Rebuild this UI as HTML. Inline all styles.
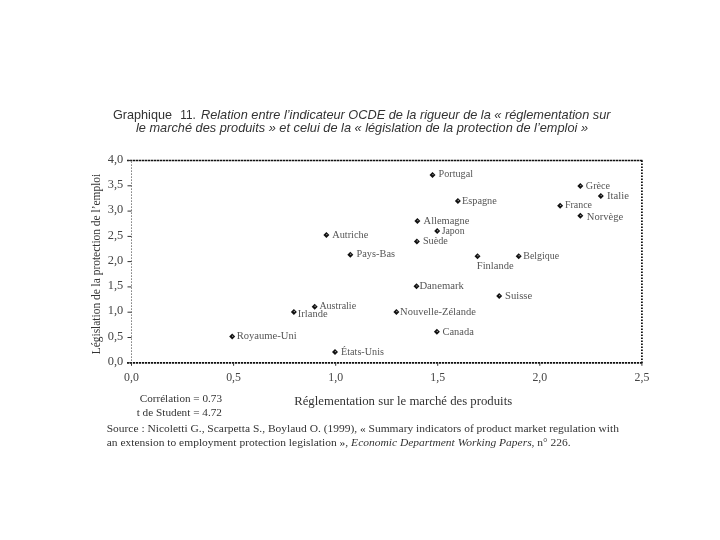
<!DOCTYPE html>
<html lang="fr"><head><meta charset="utf-8"><title>Graphique 11</title>
<style>
html,body{margin:0;padding:0;background:#fff;width:720px;height:540px;overflow:hidden}
svg{display:block}
text{font-family:"Liberation Serif","DejaVu Serif",serif;fill:#333}
.t{font-family:"Liberation Sans","DejaVu Sans",sans-serif;font-size:13px;fill:#333}
.ti{font-style:italic}
.lab{font-size:10.5px;fill:#555}
.tick{font-size:12px;fill:#444}
.ax{font-size:11.5px;fill:#333}
.src{font-size:11px;fill:#333}
</style></head><body>
<svg width="720" height="540" viewBox="0 0 720 540">

<text x="113" y="118.5" class="t" textLength="59" lengthAdjust="spacingAndGlyphs">Graphique</text>
<text x="180.3" y="118.5" class="t" textLength="15.5" lengthAdjust="spacingAndGlyphs">11.</text>
<text x="201" y="118.5" class="t ti" textLength="409.5" lengthAdjust="spacingAndGlyphs">Relation entre l’indicateur OCDE de la rigueur de la « réglementation sur</text>
<text x="136" y="131.9" class="t ti" textLength="452" lengthAdjust="spacingAndGlyphs">le marché des produits » et celui de la « législation de la protection de l’emploi »</text>
<line x1="127" y1="160.5" x2="642.5" y2="160.5" stroke="#111" stroke-width="1.3" stroke-dasharray="2.4 0.6"/>
<line x1="131.5" y1="161.5" x2="131.5" y2="362.8" stroke="#555" stroke-width="1" stroke-dasharray="1.2 1.8"/>
<line x1="641.9" y1="160.5" x2="641.9" y2="363.8" stroke="#111" stroke-width="1.8" stroke-dasharray="1.5 1.5"/>
<line x1="127" y1="362.8" x2="642.5" y2="362.8" stroke="#111" stroke-width="1.8" stroke-dasharray="2.2 0.8"/>
<line x1="127.5" y1="362.8" x2="131.5" y2="362.8" stroke="#333" stroke-width="1"/>
<text x="123.2" y="365.0" class="tick" text-anchor="end" textLength="15.5" lengthAdjust="spacingAndGlyphs">0,0</text>
<line x1="127.5" y1="337.5" x2="131.5" y2="337.5" stroke="#333" stroke-width="1"/>
<text x="123.2" y="339.7" class="tick" text-anchor="end" textLength="15.5" lengthAdjust="spacingAndGlyphs">0,5</text>
<line x1="127.5" y1="312.2" x2="131.5" y2="312.2" stroke="#333" stroke-width="1"/>
<text x="123.2" y="314.4" class="tick" text-anchor="end" textLength="15.5" lengthAdjust="spacingAndGlyphs">1,0</text>
<line x1="127.5" y1="286.9" x2="131.5" y2="286.9" stroke="#333" stroke-width="1"/>
<text x="123.2" y="289.1" class="tick" text-anchor="end" textLength="15.5" lengthAdjust="spacingAndGlyphs">1,5</text>
<line x1="127.5" y1="261.6" x2="131.5" y2="261.6" stroke="#333" stroke-width="1"/>
<text x="123.2" y="263.8" class="tick" text-anchor="end" textLength="15.5" lengthAdjust="spacingAndGlyphs">2,0</text>
<line x1="127.5" y1="236.4" x2="131.5" y2="236.4" stroke="#333" stroke-width="1"/>
<text x="123.2" y="238.6" class="tick" text-anchor="end" textLength="15.5" lengthAdjust="spacingAndGlyphs">2,5</text>
<line x1="127.5" y1="211.1" x2="131.5" y2="211.1" stroke="#333" stroke-width="1"/>
<text x="123.2" y="213.3" class="tick" text-anchor="end" textLength="15.5" lengthAdjust="spacingAndGlyphs">3,0</text>
<line x1="127.5" y1="185.8" x2="131.5" y2="185.8" stroke="#333" stroke-width="1"/>
<text x="123.2" y="188.0" class="tick" text-anchor="end" textLength="15.5" lengthAdjust="spacingAndGlyphs">3,5</text>
<line x1="127.5" y1="160.5" x2="131.5" y2="160.5" stroke="#333" stroke-width="1"/>
<text x="123.2" y="162.7" class="tick" text-anchor="end" textLength="15.5" lengthAdjust="spacingAndGlyphs">4,0</text>
<line x1="131.5" y1="362.8" x2="131.5" y2="365.8" stroke="#333" stroke-width="1"/>
<text x="131.5" y="380.7" class="tick" text-anchor="middle" textLength="14.8" lengthAdjust="spacingAndGlyphs">0,0</text>
<line x1="233.6" y1="362.8" x2="233.6" y2="365.8" stroke="#333" stroke-width="1"/>
<text x="233.6" y="380.7" class="tick" text-anchor="middle" textLength="14.8" lengthAdjust="spacingAndGlyphs">0,5</text>
<line x1="335.7" y1="362.8" x2="335.7" y2="365.8" stroke="#333" stroke-width="1"/>
<text x="335.7" y="380.7" class="tick" text-anchor="middle" textLength="14.8" lengthAdjust="spacingAndGlyphs">1,0</text>
<line x1="437.7" y1="362.8" x2="437.7" y2="365.8" stroke="#333" stroke-width="1"/>
<text x="437.7" y="380.7" class="tick" text-anchor="middle" textLength="14.8" lengthAdjust="spacingAndGlyphs">1,5</text>
<line x1="539.8" y1="362.8" x2="539.8" y2="365.8" stroke="#333" stroke-width="1"/>
<text x="539.8" y="380.7" class="tick" text-anchor="middle" textLength="14.8" lengthAdjust="spacingAndGlyphs">2,0</text>
<line x1="641.9" y1="362.8" x2="641.9" y2="365.8" stroke="#333" stroke-width="1"/>
<text x="641.9" y="380.7" class="tick" text-anchor="middle" textLength="14.8" lengthAdjust="spacingAndGlyphs">2,5</text>
<text transform="translate(99.8,354.3) rotate(-90)" x="0" y="0" class="ax" textLength="180.5" lengthAdjust="spacingAndGlyphs">Législation de la protection de l’emploi</text>
<text x="294.2" y="404.8" class="ax" textLength="218.0" lengthAdjust="spacingAndGlyphs">Réglementation sur le marché des produits</text>
<text x="222.0" y="401.8" class="src" text-anchor="end" textLength="82.3" lengthAdjust="spacingAndGlyphs">Corrélation = 0.73</text>
<text x="222.0" y="416.0" class="src" text-anchor="end" textLength="85.3" lengthAdjust="spacingAndGlyphs">t de Student = 4.72</text>
<text x="106.7" y="432.0" class="src" textLength="512.3" lengthAdjust="spacingAndGlyphs">Source : Nicoletti G., Scarpetta S., Boylaud O. (1999), « Summary indicators of product market regulation with</text>
<text x="106.7" y="445.8" class="src" textLength="464" lengthAdjust="spacingAndGlyphs">an extension to employment protection legislation », <tspan font-style="italic">Economic Department Working Papers</tspan>, n° 226.</text>
<path d="M432.5 172.0L435.5 175.0L432.5 178.0L429.5 175.0Z" fill="#111"/>
<circle cx="432.9" cy="174.6" r="0.7" fill="#999"/>
<text x="438.5" y="177.3" class="lab" textLength="34.5" lengthAdjust="spacingAndGlyphs">Portugal</text>
<path d="M580.3 183.0L583.3 186.0L580.3 189.0L577.3 186.0Z" fill="#111"/>
<circle cx="580.7" cy="185.6" r="0.7" fill="#999"/>
<text x="585.8" y="188.7" class="lab" textLength="24.3" lengthAdjust="spacingAndGlyphs">Grèce</text>
<path d="M600.8 192.9L603.8 195.9L600.8 198.9L597.8 195.9Z" fill="#111"/>
<circle cx="601.2" cy="195.5" r="0.7" fill="#999"/>
<text x="607.0" y="199.3" class="lab" textLength="21.9" lengthAdjust="spacingAndGlyphs">Italie</text>
<path d="M457.9 197.9L460.9 200.9L457.9 203.9L454.9 200.9Z" fill="#111"/>
<circle cx="458.3" cy="200.5" r="0.7" fill="#999"/>
<text x="462.0" y="204.2" class="lab" textLength="34.8" lengthAdjust="spacingAndGlyphs">Espagne</text>
<path d="M560.1 202.8L563.1 205.8L560.1 208.8L557.1 205.8Z" fill="#111"/>
<circle cx="560.5" cy="205.4" r="0.7" fill="#999"/>
<text x="565.0" y="208.0" class="lab" textLength="27.0" lengthAdjust="spacingAndGlyphs">France</text>
<path d="M580.3 212.8L583.3 215.8L580.3 218.8L577.3 215.8Z" fill="#111"/>
<circle cx="580.7" cy="215.4" r="0.7" fill="#999"/>
<text x="586.8" y="219.8" class="lab" textLength="36.5" lengthAdjust="spacingAndGlyphs">Norvège</text>
<path d="M417.4 218.0L420.4 221.0L417.4 224.0L414.4 221.0Z" fill="#111"/>
<circle cx="417.8" cy="220.6" r="0.7" fill="#999"/>
<text x="423.6" y="223.7" class="lab" textLength="45.8" lengthAdjust="spacingAndGlyphs">Allemagne</text>
<path d="M437.2 228.1L440.2 231.1L437.2 234.1L434.2 231.1Z" fill="#111"/>
<circle cx="437.6" cy="230.7" r="0.7" fill="#999"/>
<text x="441.7" y="233.8" class="lab" textLength="22.9" lengthAdjust="spacingAndGlyphs">Japon</text>
<path d="M416.9 238.4L419.9 241.4L416.9 244.4L413.9 241.4Z" fill="#111"/>
<circle cx="417.3" cy="241.0" r="0.7" fill="#999"/>
<text x="422.9" y="244.1" class="lab" textLength="25.0" lengthAdjust="spacingAndGlyphs">Suède</text>
<path d="M326.4 232.0L329.4 235.0L326.4 238.0L323.4 235.0Z" fill="#111"/>
<circle cx="326.8" cy="234.6" r="0.7" fill="#999"/>
<text x="332.2" y="237.7" class="lab" textLength="36.1" lengthAdjust="spacingAndGlyphs">Autriche</text>
<path d="M350.3 251.7L353.3 254.7L350.3 257.7L347.3 254.7Z" fill="#111"/>
<circle cx="350.7" cy="254.3" r="0.7" fill="#999"/>
<text x="356.5" y="257.4" class="lab" textLength="38.5" lengthAdjust="spacingAndGlyphs">Pays-Bas</text>
<path d="M477.5 253.2L480.5 256.2L477.5 259.2L474.5 256.2Z" fill="#111"/>
<circle cx="477.9" cy="255.8" r="0.7" fill="#999"/>
<text x="476.8" y="268.8" class="lab" textLength="36.9" lengthAdjust="spacingAndGlyphs">Finlande</text>
<path d="M518.7 253.2L521.7 256.2L518.7 259.2L515.7 256.2Z" fill="#111"/>
<circle cx="519.1" cy="255.8" r="0.7" fill="#999"/>
<text x="523.3" y="258.9" class="lab" textLength="35.9" lengthAdjust="spacingAndGlyphs">Belgique</text>
<path d="M416.5 283.3L419.5 286.3L416.5 289.3L413.5 286.3Z" fill="#111"/>
<circle cx="416.9" cy="285.9" r="0.7" fill="#999"/>
<text x="419.4" y="289.0" class="lab" textLength="44.4" lengthAdjust="spacingAndGlyphs">Danemark</text>
<path d="M499.2 293.0L502.2 296.0L499.2 299.0L496.2 296.0Z" fill="#111"/>
<circle cx="499.6" cy="295.6" r="0.7" fill="#999"/>
<text x="505.0" y="299.2" class="lab" textLength="27.2" lengthAdjust="spacingAndGlyphs">Suisse</text>
<path d="M314.7 303.7L317.7 306.7L314.7 309.7L311.7 306.7Z" fill="#111"/>
<circle cx="315.1" cy="306.3" r="0.7" fill="#999"/>
<text x="319.4" y="309.2" class="lab" textLength="36.7" lengthAdjust="spacingAndGlyphs">Australie</text>
<path d="M293.9 308.9L296.9 311.9L293.9 314.9L290.9 311.9Z" fill="#111"/>
<circle cx="294.3" cy="311.5" r="0.7" fill="#999"/>
<text x="297.8" y="317.2" class="lab" textLength="29.8" lengthAdjust="spacingAndGlyphs">Irlande</text>
<path d="M396.4 308.9L399.4 311.9L396.4 314.9L393.4 311.9Z" fill="#111"/>
<circle cx="396.8" cy="311.5" r="0.7" fill="#999"/>
<text x="400.1" y="314.6" class="lab" textLength="75.7" lengthAdjust="spacingAndGlyphs">Nouvelle-Zélande</text>
<path d="M436.9 328.8L439.9 331.8L436.9 334.8L433.9 331.8Z" fill="#111"/>
<circle cx="437.3" cy="331.4" r="0.7" fill="#999"/>
<text x="442.5" y="334.5" class="lab" textLength="31.3" lengthAdjust="spacingAndGlyphs">Canada</text>
<path d="M232.2 333.6L235.2 336.6L232.2 339.6L229.2 336.6Z" fill="#111"/>
<circle cx="232.6" cy="336.2" r="0.7" fill="#999"/>
<text x="236.7" y="339.3" class="lab" textLength="60.0" lengthAdjust="spacingAndGlyphs">Royaume-Uni</text>
<path d="M335.0 349.0L338.0 352.0L335.0 355.0L332.0 352.0Z" fill="#111"/>
<circle cx="335.4" cy="351.6" r="0.7" fill="#999"/>
<text x="341.1" y="354.7" class="lab" textLength="42.8" lengthAdjust="spacingAndGlyphs">États-Unis</text>
</svg>
</body></html>
